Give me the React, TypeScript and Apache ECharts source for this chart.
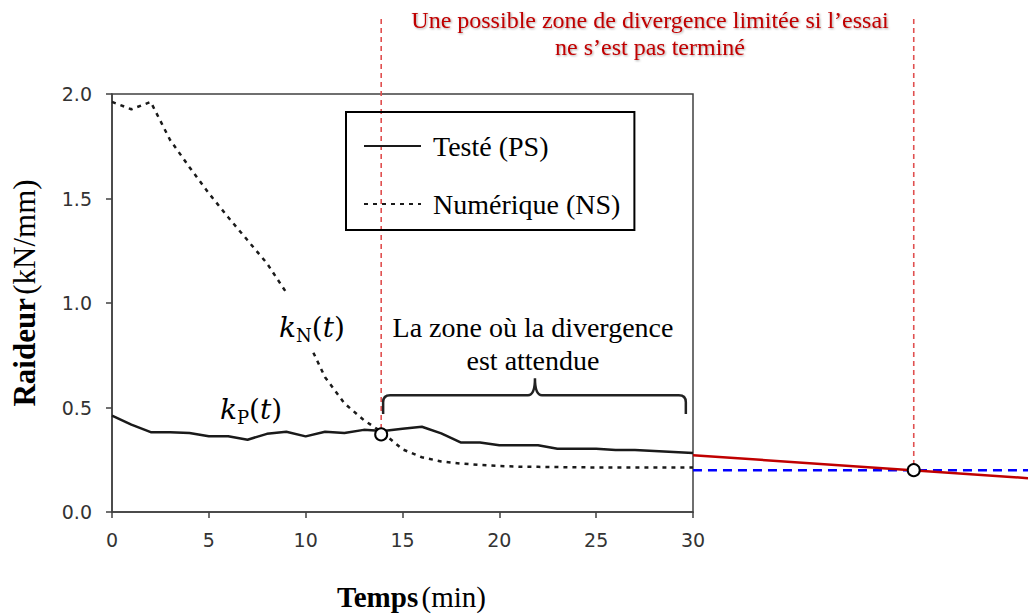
import React, { useEffect, useRef } from "react";
import * as echarts from "echarts";

// Time (min)
const timeMin = [0, 1, 2, 3, 4, 5, 6, 7, 8, 9, 10, 11, 12, 13, 14, 15, 16, 17, 18, 19, 20, 21, 22, 23, 24, 25, 26, 27, 28, 29, 30];
// Testé (PS) k_P(t)
const kP = [0.461, 0.418, 0.382, 0.382, 0.378, 0.362, 0.362, 0.346, 0.374, 0.384, 0.362, 0.384, 0.378, 0.393, 0.388, 0.398, 0.408, 0.376, 0.333, 0.333, 0.319, 0.319, 0.319, 0.303, 0.303, 0.303, 0.297, 0.297, 0.292, 0.287, 0.282];
// Numérique (NS) k_N(t)
const kN = [1.962, 1.927, 1.962, 1.78, 1.65, 1.525, 1.41, 1.3, 1.19, 1.05, 0.84, 0.645, 0.52, 0.44, 0.378, 0.3, 0.262, 0.242, 0.232, 0.225, 0.22, 0.217, 0.216, 0.215, 0.214, 0.213, 0.213, 0.213, 0.213, 0.213, 0.213];

// Extrapolations beyond the test end
const trendT = [30, 47.3];
const trendK = [0.284, 0.175];
const plateauT = [30, 47.3];
const plateauK = [0.213, 0.213];

// Remarkable points
const crossT = 13.9;
const crossK = 0.383;
const projT = 41.4;
const projK = 0.213;
const guideTop = 2.36;

// Brace: [t start, t end, k low, k bar, t tip, k tip]
const brace = [14.0, 29.63, 0.469, 0.559, 21.84, 0.64];

const xMain = 30;
const xExt = 47.3;
const yMain = 2;
const yExt = 2.3753;

const serif = "'Liberation Serif', 'Times New Roman', serif";
const tickFont = "'DejaVu Sans', sans-serif";
const mathFont = "'DejaVu Serif', serif";

export default function App() {
  const ref = useRef<HTMLDivElement>(null);
  useEffect(() => {
    if (!ref.current) return;
    const chart = echarts.init(ref.current, null, { renderer: "svg" });
    const pairs = (xs: number[], ys: number[]) => xs.map((x, i) => [x, ys[i]]);
    const mathRich = {
      k: { fontFamily: mathFont, fontStyle: "italic", fontSize: 28, lineHeight: 34, color: "#000", verticalAlign: "middle" },
      s: { fontFamily: mathFont, fontSize: 18, lineHeight: 20, color: "#000", verticalAlign: "bottom" },
      p: { fontFamily: mathFont, fontSize: 28, lineHeight: 34, color: "#000", verticalAlign: "middle" },
    };
    const option: any = {
      animation: false,
      backgroundColor: "#fff",
      grid: [
        { left: 112, top: 94, width: 581, height: 421, show: true, borderColor: "#404040", borderWidth: 1.5, backgroundColor: "transparent" },
        { left: 112, top: 15, width: 916, height: 500, show: false },
      ],
      xAxis: [
        {
          type: "value", gridIndex: 0, min: 0, max: xMain, interval: 5,
          name: "{b|Temps} {n|(min)}", nameLocation: "middle", nameGap: 70,
          nameTextStyle: { padding: [0, 0, 0, 18], rich: { b: { fontFamily: serif, fontSize: 29, fontWeight: "bold", color: "#000" }, n: { fontFamily: serif, fontSize: 29, color: "#000" } } },
          axisLine: { lineStyle: { color: "#404040", width: 1.5 } },
          axisTick: { length: 6, lineStyle: { color: "#404040", width: 1.5 } },
          axisLabel: { fontFamily: tickFont, fontSize: 19, color: "#333", margin: 18 },
          splitLine: { show: false },
        },
        { type: "value", gridIndex: 1, min: 0, max: xExt, show: false },
      ],
      yAxis: [
        {
          type: "value", gridIndex: 0, min: 0, max: yMain, interval: 0.5,
          name: "{b|Raideur} {n|(kN/mm)}", nameLocation: "middle", nameGap: 72,
          nameTextStyle: { padding: [0, 0, 0, 20], rich: { b: { fontFamily: serif, fontSize: 31, fontWeight: "bold", color: "#000" }, n: { fontFamily: serif, fontSize: 31, color: "#000" } } },
          axisLine: { show: true, lineStyle: { color: "#404040", width: 1.5 } },
          axisTick: { show: true, length: 6, lineStyle: { color: "#404040", width: 1.5 } },
          axisLabel: { fontFamily: tickFont, fontSize: 19, color: "#333", margin: 20, formatter: (v: number) => v.toFixed(1) },
          splitLine: { show: false },
        },
        { type: "value", gridIndex: 1, min: 0, max: yExt, show: false },
      ],
      legend: {
        orient: "vertical", left: 346, top: 112,
        data: ["Testé (PS)", "Numérique (NS)"],
        borderColor: "#000", borderWidth: 2,
        padding: [20, 14, 12, 17],
        itemWidth: 57, itemHeight: 14, itemGap: 30,
        itemStyle: { opacity: 0 },
        textStyle: { fontFamily: serif, fontSize: 28, color: "#000", lineHeight: 26, padding: [0, 0, 0, 7] },
        selectedMode: false,
      },
      series: [
        {
          name: "Testé (PS)", type: "line", xAxisIndex: 0, yAxisIndex: 0,
          data: pairs(timeMin, kP), symbol: "none", z: 4,
          lineStyle: { color: "#1a1a1a", width: 2.5 }, itemStyle: { color: "#1a1a1a" },
        },
        {
          name: "Numérique (NS)", type: "line", xAxisIndex: 0, yAxisIndex: 0,
          data: pairs(timeMin, kN), symbol: "none", z: 3,
          lineStyle: { color: "#1a1a1a", width: 2.5, type: [4, 5] }, itemStyle: { color: "#1a1a1a" },
        },
        {
          name: "trend", type: "line", xAxisIndex: 1, yAxisIndex: 1,
          data: pairs(trendT, trendK), symbol: "none", z: 3,
          lineStyle: { color: "#c00000", width: 2.5 },
        },
        {
          name: "plateau", type: "line", xAxisIndex: 1, yAxisIndex: 1,
          data: pairs(plateauT, plateauK), symbol: "none", z: 2,
          lineStyle: { color: "#0000ff", width: 2.5, type: [9, 6] },
        },
        {
          name: "guide1", type: "line", xAxisIndex: 1, yAxisIndex: 1,
          data: [[crossT, crossK + 0.025], [crossT, guideTop]], symbol: "none", z: 2,
          lineStyle: { color: "#e05050", width: 1.6, type: [5, 4] },
        },
        {
          name: "guide2", type: "line", xAxisIndex: 1, yAxisIndex: 1,
          data: [[projT, projK + 0.025], [projT, guideTop]], symbol: "none", z: 2,
          lineStyle: { color: "#e05050", width: 1.6, type: [5, 4] },
        },
        {
          name: "points", type: "scatter", xAxisIndex: 1, yAxisIndex: 1,
          data: [[crossT, crossK], [projT, projK]], symbol: "circle", symbolSize: 12, z: 10,
          itemStyle: { color: "#fff", borderColor: "#000", borderWidth: 2, opacity: 1 },
        },
        {
          name: "brace", type: "custom", xAxisIndex: 0, yAxisIndex: 0, z: 5,
          encode: { x: [0, 1, 4], y: [2, 3, 5] },
          data: [brace],
          clip: false,
          renderItem: (params: any, api: any) => {
            const p1 = api.coord([api.value(0), api.value(2)]);
            const pb = api.coord([api.value(0), api.value(3)]);
            const p2 = api.coord([api.value(1), api.value(2)]);
            const tip = api.coord([api.value(4), api.value(5)]);
            const r = 7;
            const by = pb[1];
            const d =
              `M ${p1[0]} ${p1[1]} L ${p1[0]} ${by + r} Q ${p1[0]} ${by} ${p1[0] + r} ${by} ` +
              `L ${tip[0] - r} ${by} Q ${tip[0]} ${by} ${tip[0]} ${tip[1]} Q ${tip[0]} ${by} ${tip[0] + r} ${by} ` +
              `L ${p2[0] - r} ${by} Q ${p2[0]} ${by} ${p2[0]} ${by + r} L ${p2[0]} ${p2[1]}`;
            return { type: "path", shape: { pathData: d }, style: { fill: "none", stroke: "#222", lineWidth: 2.5 } };
          },
        },
      ],
      graphic: [
        {
          type: "text", x: 650, y: 6, z: 100,
          style: {
            text: "Une possible zone de divergence limitée si l’essai\nne s’est pas terminé",
            font: `24px ${serif}`, fill: "#c00000", align: "center", lineHeight: 27,
            textShadowColor: "rgba(0,0,0,0.35)", textShadowBlur: 2, textShadowOffsetX: 1, textShadowOffsetY: 1,
          },
        },
        {
          type: "text", x: 533, y: 311, z: 100,
          style: { text: "La zone où la divergence\nest attendue", font: `28px ${serif}`, fill: "#000", align: "center", lineHeight: 33 },
        },
        {
          type: "text", x: 277, y: 322, z: 100,
          style: {
            text: "{k|k}{s|N}{p|(}{k|t}{p|)}", align: "left", verticalAlign: "middle",
            backgroundColor: "#fff", padding: [18, 2, 8, 2],
            rich: mathRich,
          },
        },
        {
          type: "text", x: 220, y: 409, z: 100,
          style: {
            text: "{k|k}{s|P}{p|(}{k|t}{p|)}", align: "left", verticalAlign: "middle",
            rich: mathRich,
          },
        },
      ],
    };
    chart.setOption(option);
    return () => chart.dispose();
  }, []);
  return <div ref={ref} style={{ position: "fixed", left: 0, top: 0, width: 1028, height: 616, background: "#fff" }} />;
}
